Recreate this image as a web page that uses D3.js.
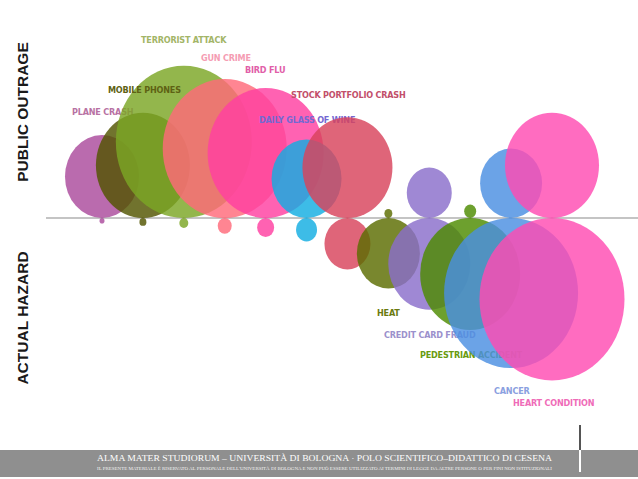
<!DOCTYPE html>
<html>
<head>
<meta charset="utf-8">
<script src="https://cdn.jsdelivr.net/npm/d3@7"></script>
<style>
  body { margin: 0; background: #fff; }
  svg { display: block; }
</style>
</head>
<body>
<svg id="chart" width="638" height="479"></svg>
<script>
///////////////////////////////////////////
// Data
///////////////////////////////////////////
var categories = ["Plane crash", "Mobile phones", "Terrorist attack", "Gun crime", "Bird flu",
  "Daily glass of wine", "Stock portfolio crash", "Heat", "Credit card fraud",
  "Pedestrian accident", "Cancer", "Heart condition"];

// bubble size above the line (public outrage) and below it (actual hazard)
var outrage = [37, 47, 68, 62, 58, 35, 45, 4, 22.5, 6, 31, 47];
var hazard = [2.5, 3.5, 4.5, 7, 8.5, 10.5, 23, 31.5, 41, 50, 67, 72.5];

var fills = ["#ab4b9c", "#525400", "#7ba624", "#ff6a7a", "#ff3fa1", "#12ade2",
  "#d8435c", "#5c6c00", "#8a6ecb", "#4d8b00", "#4a8fe2", "#ff4cb2"];
var labelColors = ["#b872a3", "#5e6214", "#a3b567", "#f59db3", "#e15ea8", "#7468d2",
  "#c24f6a", "#6a7a10", "#9b91cc", "#689a10", "#8aa0e0", "#ef6cb8"];

// label layout: [left x, baseline y]
var labelPos = [[72, 115], [108, 93], [141, 43], [201, 61], [245, 73], [259, 123],
  [291, 98], [377, 316], [384, 338], [420, 358], [494, 394], [513, 406]];

///////////////////////////////////////////
// Chart
///////////////////////////////////////////
var svg = d3.select("#chart");
var baseY = 218;
var stretch = 1.12;

var x = d3.scalePoint().domain(categories).range([102, 552]);
var r = d3.scaleLinear().domain([0, 80]).range([0, 80]);

svg.append("line")
  .attr("x1", 46).attr("x2", 638)
  .attr("y1", baseY).attr("y2", baseY)
  .attr("stroke", "#c4c4c4")
  .attr("stroke-width", 2);

// one group per hazard, drawn left to right; each label sits just under its own bubbles
var node = svg.append("g").selectAll("g")
  .data(categories)
  .enter().append("g");

node.append("text")
  .attr("class", "label")
  .attr("x", function(d, i) { return labelPos[i][0]; })
  .attr("y", function(d, i) { return labelPos[i][1]; })
  .attr("fill", function(d, i) { return labelColors[i]; })
  .style("font-family", "'DejaVu Sans Condensed', sans-serif")
  .style("font-weight", "bold")
  .style("font-size", "9px")
  .style("letter-spacing", "-0.2px")
  .text(function(d) { return d.toUpperCase(); });

node.append("ellipse")
  .attr("cx", function(d) { return x(d); })
  .attr("rx", function(d, i) { return r(outrage[i]); })
  .attr("ry", function(d, i) { return r(outrage[i]) * stretch; })
  .attr("cy", function(d, i) { return baseY - r(outrage[i]) * stretch; })
  .attr("fill", function(d, i) { return fills[i]; })
  .attr("fill-opacity", 0.82);

node.append("ellipse")
  .attr("cx", function(d) { return x(d); })
  .attr("rx", function(d, i) { return r(hazard[i]); })
  .attr("ry", function(d, i) { return r(hazard[i]) * stretch; })
  .attr("cy", function(d, i) { return baseY + r(hazard[i]) * stretch; })
  .attr("fill", function(d, i) { return fills[i]; })
  .attr("fill-opacity", 0.82);

// "mobile phones" label reads on top of the terrorist bubble in the original
var mobileLabel = node.filter(function(d) { return d === "Mobile phones"; }).select("text.label").node();
node.filter(function(d) { return d === "Terrorist attack"; }).node().appendChild(mobileLabel);

// side titles
svg.append("text")
  .attr("transform", "translate(28,112) rotate(-90)")
  .attr("text-anchor", "middle")
  .attr("fill", "#1a1a1a")
  .style("font-family", "'Liberation Sans', Arial, sans-serif")
  .style("font-weight", "bold")
  .style("font-size", "15.5px")
  .text("PUBLIC OUTRAGE");

svg.append("text")
  .attr("transform", "translate(28,318) rotate(-90)")
  .attr("text-anchor", "middle")
  .attr("fill", "#1a1a1a")
  .style("font-family", "'Liberation Sans', Arial, sans-serif")
  .style("font-weight", "bold")
  .style("font-size", "15.5px")
  .text("ACTUAL HAZARD");

///////////////////////////////////////////
// Footer
///////////////////////////////////////////
svg.append("rect")
  .attr("x", 0).attr("y", 450)
  .attr("width", 638).attr("height", 27)
  .attr("fill", "#8f8f8f");

svg.append("rect")
  .attr("x", 579).attr("y", 425)
  .attr("width", 2).attr("height", 25)
  .attr("fill", "#555");
svg.append("rect")
  .attr("x", 579).attr("y", 450)
  .attr("width", 2).attr("height", 22)
  .attr("fill", "#fff");

svg.append("text")
  .attr("x", 97).attr("y", 461)
  .attr("fill", "#fff")
  .attr("textLength", 455)
  .attr("lengthAdjust", "spacingAndGlyphs")
  .style("font-family", "'Liberation Serif', 'DejaVu Serif', serif")
  .style("font-size", "9px")
  .text("ALMA MATER STUDIORUM \u2013 UNIVERSITÀ DI BOLOGNA \u00b7 POLO SCIENTIFICO\u2013DIDATTICO DI CESENA");

svg.append("text")
  .attr("x", 97).attr("y", 470)
  .attr("fill", "#f2f2f2")
  .attr("textLength", 455)
  .attr("lengthAdjust", "spacingAndGlyphs")
  .style("font-family", "'Liberation Serif', 'DejaVu Serif', serif")
  .style("font-size", "3.6px")
  .text("IL PRESENTE MATERIALE È RISERVATO AL PERSONALE DELL'UNIVERSITÀ DI BOLOGNA E NON PUÒ ESSERE UTILIZZATO AI TERMINI DI LEGGE DA ALTRE PERSONE O PER FINI NON ISTITUZIONALI");
</script>
</body>
</html>
